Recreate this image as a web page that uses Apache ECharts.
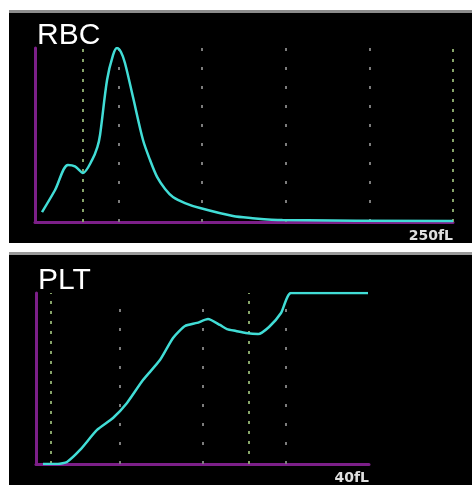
<!DOCTYPE html>
<html>
<head>
<meta charset="utf-8">
<script src="https://cdn.jsdelivr.net/npm/echarts@6/dist/echarts.min.js"></script>
<style>
  html, body { margin: 0; padding: 0; background: #fff; }
  #main { width: 472px; height: 485px; }
</style>
</head>
<body>
<div id="main"></div>
<script>
// RBC histogram (fL vs relative count)
const rbcFl    = [4.2, 12, 19.7, 23.9, 28.7, 34.1, 37.3, 38.9, 43.1, 46.7, 49, 51.4, 53.8, 58.6, 64.6, 68.8, 73, 77.8, 82.5, 89.7, 98.7, 118.4, 129, 148, 250];
const rbcCount = [5.7, 18.4, 32.8, 32, 28.2, 35.5, 43, 50, 81.6, 96, 100, 97.7, 91.4, 71.8, 47.1, 35.6, 25.9, 19, 14.4, 10.9, 8, 3.4, 2.3, 1.1, 0.6];
const rbcGrey  = [50, 100, 150, 200];
const rbcGreen = [28.7, 250];

// PLT histogram
const pltFl    = [0.84, 2.64, 3.72, 5.29, 7.33, 9.25, 10.93, 12.85, 14.89, 16.46, 17.9, 19.34, 20.66, 22.1, 22.94, 24.02, 25.2, 26.67, 27.99, 29.43, 30.63, 39.88];
const pltCount = [0, 0, 1.2, 8.2, 19.9, 26.9, 35.7, 49.1, 60.8, 73.7, 80.7, 82.5, 84.8, 81.3, 78.9, 77.8, 76.6, 76, 80.1, 88.3, 100, 100];
const pltGrey  = [10, 20, 30];
const pltGreen = [1.8, 25.6];

const cyan = '#41ddd6';
const purple = '#7c1f88';

function zip(a, b) { return a.map((v, i) => [v, b[i]]); }

function guides(grey, green) {
  return grey.map(v => ({ xAxis: v, lineStyle: { color: '#7c7c7c', type: [3, 16], width: 2 } }))
    .concat(green.map(v => ({ xAxis: v, lineStyle: { color: '#86a468', type: [3, 7], width: 2 } })));
}

function xAx(idx, max, unit) {
  return {
    type: 'value', gridIndex: idx, min: 0, max: max, interval: max,
    axisLine: { show: true, lineStyle: { color: purple, width: 3 } },
    axisTick: { show: false }, splitLine: { show: false },
    axisLabel: {
      color: '#e0e0e0', fontFamily: 'DejaVu Sans', fontWeight: 'bold', fontSize: 14,
      align: 'right', margin: 7,
      formatter: v => v === max ? max + unit : ''
    }
  };
}
function yAx(idx) {
  return {
    type: 'value', gridIndex: idx, min: 0, max: 100,
    axisLine: { show: true, lineStyle: { color: purple, width: 3 } },
    axisTick: { show: false }, splitLine: { show: false }, axisLabel: { show: false }
  };
}

const chart = echarts.init(document.getElementById('main'));
chart.setOption({
  animation: false,
  backgroundColor: '#fff',
  graphic: [
    { type: 'rect', z: -10, shape: { x: 9, y: 10, width: 463, height: 233 }, style: { fill: '#000' } },
    { type: 'rect', z: -9, shape: { x: 9, y: 10, width: 463, height: 3 }, style: { fill: '#8c8c8c' } },
    { type: 'rect', z: -10, shape: { x: 9, y: 252, width: 463, height: 233 }, style: { fill: '#000' } },
    { type: 'rect', z: -9, shape: { x: 9, y: 252, width: 463, height: 3 }, style: { fill: '#9a9a9a' } }
  ],
  title: [
    { text: 'RBC', left: 32, top: 16, textStyle: { color: '#fff', fontFamily: 'Liberation Sans', fontWeight: 'normal', fontSize: 30 } },
    { text: 'PLT', left: 33, top: 261, textStyle: { color: '#fff', fontFamily: 'Liberation Sans', fontWeight: 'normal', fontSize: 30 } }
  ],
  grid: [
    { left: 35, top: 48, width: 418, height: 174 },
    { left: 36, top: 293, width: 333, height: 171 }
  ],
  xAxis: [xAx(0, 250, 'fL'), xAx(1, 40, 'fL')],
  yAxis: [yAx(0), yAx(1)],
  series: [
    {
      type: 'line', xAxisIndex: 0, yAxisIndex: 0, data: zip(rbcFl, rbcCount),
      smooth: 0.3, symbol: 'none', lineStyle: { color: cyan, width: 2.5 }, z: 5,
      markLine: { silent: true, symbol: 'none', label: { show: false }, data: guides(rbcGrey, rbcGreen) }
    },
    {
      type: 'line', xAxisIndex: 1, yAxisIndex: 1, data: zip(pltFl, pltCount),
      smooth: 0.2, symbol: 'none', lineStyle: { color: cyan, width: 2.5 }, z: 5,
      markLine: { silent: true, symbol: 'none', label: { show: false }, data: guides(pltGrey, pltGreen) }
    }
  ]
});
</script>
</body>
</html>
